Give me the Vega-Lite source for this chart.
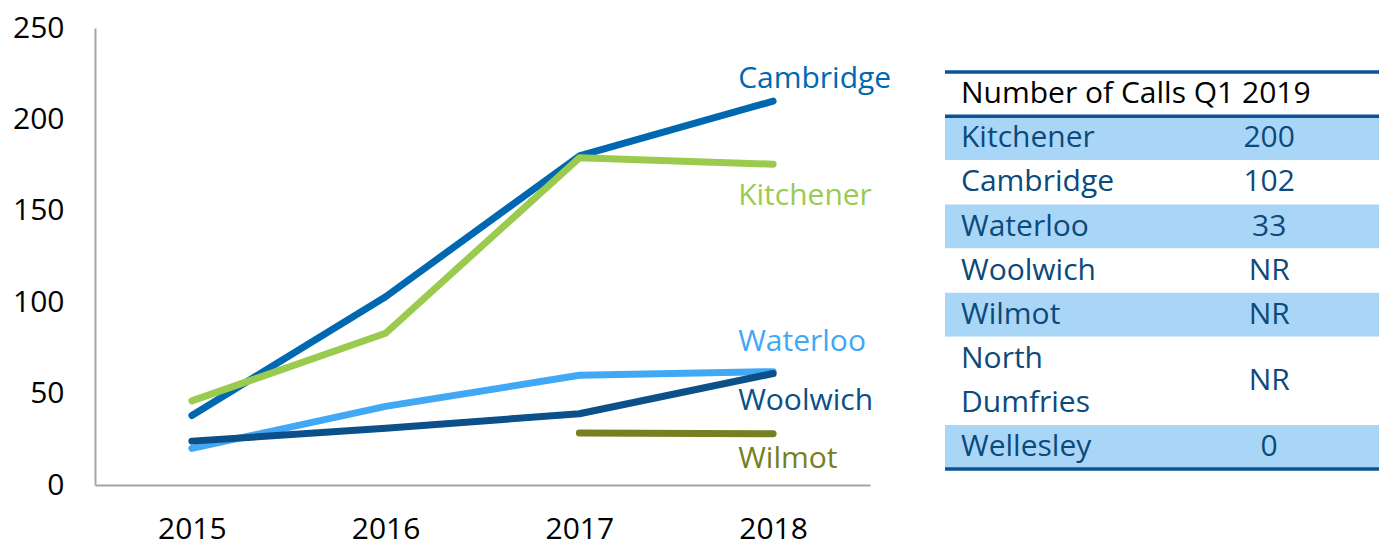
{
  "$schema": "https://vega.github.io/schema/vega-lite/v6.json",
  "padding": {"left": 12, "top": 13, "right": 4, "bottom": 4},
  "background": "white",
  "config": {"font": "Open Sans", "view": {"stroke": null}},
  "datasets": {
    "calls": [
      {"area": "Cambridge", "year": "2015", "calls": 38},
      {"area": "Cambridge", "year": "2016", "calls": 103},
      {"area": "Cambridge", "year": "2017", "calls": 180},
      {"area": "Cambridge", "year": "2018", "calls": 210},
      {"area": "Kitchener", "year": "2015", "calls": 46},
      {"area": "Kitchener", "year": "2016", "calls": 83},
      {"area": "Kitchener", "year": "2017", "calls": 179},
      {"area": "Kitchener", "year": "2018", "calls": 175.5},
      {"area": "Waterloo", "year": "2015", "calls": 20},
      {"area": "Waterloo", "year": "2016", "calls": 43},
      {"area": "Waterloo", "year": "2017", "calls": 60},
      {"area": "Waterloo", "year": "2018", "calls": 62},
      {"area": "Woolwich", "year": "2015", "calls": 24},
      {"area": "Woolwich", "year": "2016", "calls": 31},
      {"area": "Woolwich", "year": "2017", "calls": 39},
      {"area": "Woolwich", "year": "2018", "calls": 61},
      {"area": "Wilmot", "year": "2017", "calls": 28.5},
      {"area": "Wilmot", "year": "2018", "calls": 28}
    ],
    "labels": [
      {"area": "Cambridge", "year": "2018", "label_y": 222},
      {"area": "Kitchener", "year": "2018", "label_y": 158},
      {"area": "Waterloo", "year": "2018", "label_y": 78.5},
      {"area": "Woolwich", "year": "2018", "label_y": 46},
      {"area": "Wilmot", "year": "2018", "label_y": 14}
    ],
    "table": [
      {"name": "Kitchener", "value": "200", "row_start": 1, "row_end": 2, "row_mid": 1.5, "name_row": 1.5, "band": "shaded"},
      {"name": "Cambridge", "value": "102", "row_start": 2, "row_end": 3, "row_mid": 2.5, "name_row": 2.5, "band": "plain"},
      {"name": "Waterloo", "value": "33", "row_start": 3, "row_end": 4, "row_mid": 3.5, "name_row": 3.5, "band": "shaded"},
      {"name": "Woolwich", "value": "NR", "row_start": 4, "row_end": 5, "row_mid": 4.5, "name_row": 4.5, "band": "plain"},
      {"name": "Wilmot", "value": "NR", "row_start": 5, "row_end": 6, "row_mid": 5.5, "name_row": 5.5, "band": "shaded"},
      {"name": "North\nDumfries", "value": "NR", "row_start": 6, "row_end": 8, "row_mid": 7, "name_row": 6.5, "band": "plain"},
      {"name": "Wellesley", "value": "0", "row_start": 8, "row_end": 9, "row_mid": 8.5, "name_row": 8.5, "band": "shaded"}
    ],
    "header": [
      {"title": "Number of Calls Q1 2019", "row_mid": 0.5}
    ],
    "borders": [
      {"line": 0}, {"line": 1}, {"line": 9}
    ]
  },
  "spacing": 75,
  "bounds": "flush",
  "hconcat": [
    {
      "width": 775,
      "height": 457,
      "layer": [
        {
          "data": {"name": "calls"},
          "mark": {"type": "line", "strokeCap": "round", "strokeJoin": "round"},
          "encoding": {
            "x": {
              "field": "year", "type": "ordinal",
              "scale": {"type": "point", "padding": 0.5},
              "axis": {"title": null, "labelAngle": 0, "ticks": false, "grid": false,
                       "domainColor": "#A6A6A6", "domainWidth": 2,
                       "labelFontSize": 30, "labelColor": "#000000", "labelPadding": 29}
            },
            "y": {
              "field": "calls", "type": "quantitative",
              "scale": {"domain": [0, 250], "nice": false},
              "axis": {"title": null, "values": [0, 50, 100, 150, 200, 250], "ticks": false, "grid": false,
                       "domainColor": "#A6A6A6", "domainWidth": 2,
                       "labelFontSize": 30, "labelColor": "#000000", "labelPadding": 31}
            },
            "color": {
              "field": "area", "type": "nominal", "legend": null,
              "scale": {"domain": ["Cambridge", "Kitchener", "Waterloo", "Woolwich", "Wilmot"],
                        "range": ["#0067B1", "#9BCB4E", "#41A8F5", "#0B5088", "#76801F"]}
            },
            "strokeWidth": {
              "field": "area", "type": "ordinal", "legend": null,
              "scale": {"domain": ["Cambridge", "Kitchener", "Waterloo", "Woolwich", "Wilmot"],
                        "range": [7, 7, 7, 5, 5]}
            },
            "order": {"field": "year"}
          }
        },
        {
          "data": {"name": "labels"},
          "mark": {"type": "text", "align": "left", "baseline": "middle", "dx": -35, "fontSize": 30},
          "encoding": {
            "x": {"field": "year", "type": "ordinal"},
            "y": {"field": "label_y", "type": "quantitative"},
            "text": {"field": "area"},
            "color": {"field": "area", "type": "nominal", "legend": null}
          }
        }
      ]
    },
    {
      "width": 434,
      "height": 457,
      "layer": [
        {
          "data": {"name": "table"},
          "mark": {"type": "rect"},
          "encoding": {
            "x": {"datum": 0, "type": "quantitative", "scale": {"domain": [0, 1]}, "axis": null},
            "x2": {"datum": 1},
            "y": {"field": "row_start", "type": "quantitative", "scale": {"domain": [-1, 9.36], "reverse": true, "nice": false, "zero": false}, "axis": null},
            "y2": {"field": "row_end"},
            "fill": {"field": "band", "type": "nominal", "legend": null,
                     "scale": {"domain": ["shaded", "plain"], "range": ["#A9D6F7", "#FFFFFF"]}}
          }
        },
        {
          "data": {"name": "borders"},
          "mark": {"type": "rule", "color": "#0B5394", "strokeWidth": 3.5},
          "encoding": {
            "x": {"datum": 0, "type": "quantitative"},
            "x2": {"datum": 1},
            "y": {"field": "line", "type": "quantitative"}
          }
        },
        {
          "data": {"name": "header"},
          "mark": {"type": "text", "align": "left", "baseline": "middle", "dx": 16, "fontSize": 30, "color": "#000000"},
          "encoding": {
            "x": {"datum": 0, "type": "quantitative"},
            "y": {"field": "row_mid", "type": "quantitative"},
            "text": {"field": "title"}
          }
        },
        {
          "data": {"name": "table"},
          "mark": {"type": "text", "align": "left", "baseline": "middle", "dx": 16, "fontSize": 30, "color": "#0B4A7A", "lineBreak": "\n", "lineHeight": 44},
          "encoding": {
            "x": {"datum": 0, "type": "quantitative"},
            "y": {"field": "name_row", "type": "quantitative"},
            "text": {"field": "name"}
          }
        },
        {
          "data": {"name": "table"},
          "mark": {"type": "text", "align": "center", "baseline": "middle", "fontSize": 30, "color": "#0B4A7A"},
          "encoding": {
            "x": {"datum": 0.747, "type": "quantitative"},
            "y": {"field": "row_mid", "type": "quantitative"},
            "text": {"field": "value"}
          }
        }
      ]
    }
  ]
}
